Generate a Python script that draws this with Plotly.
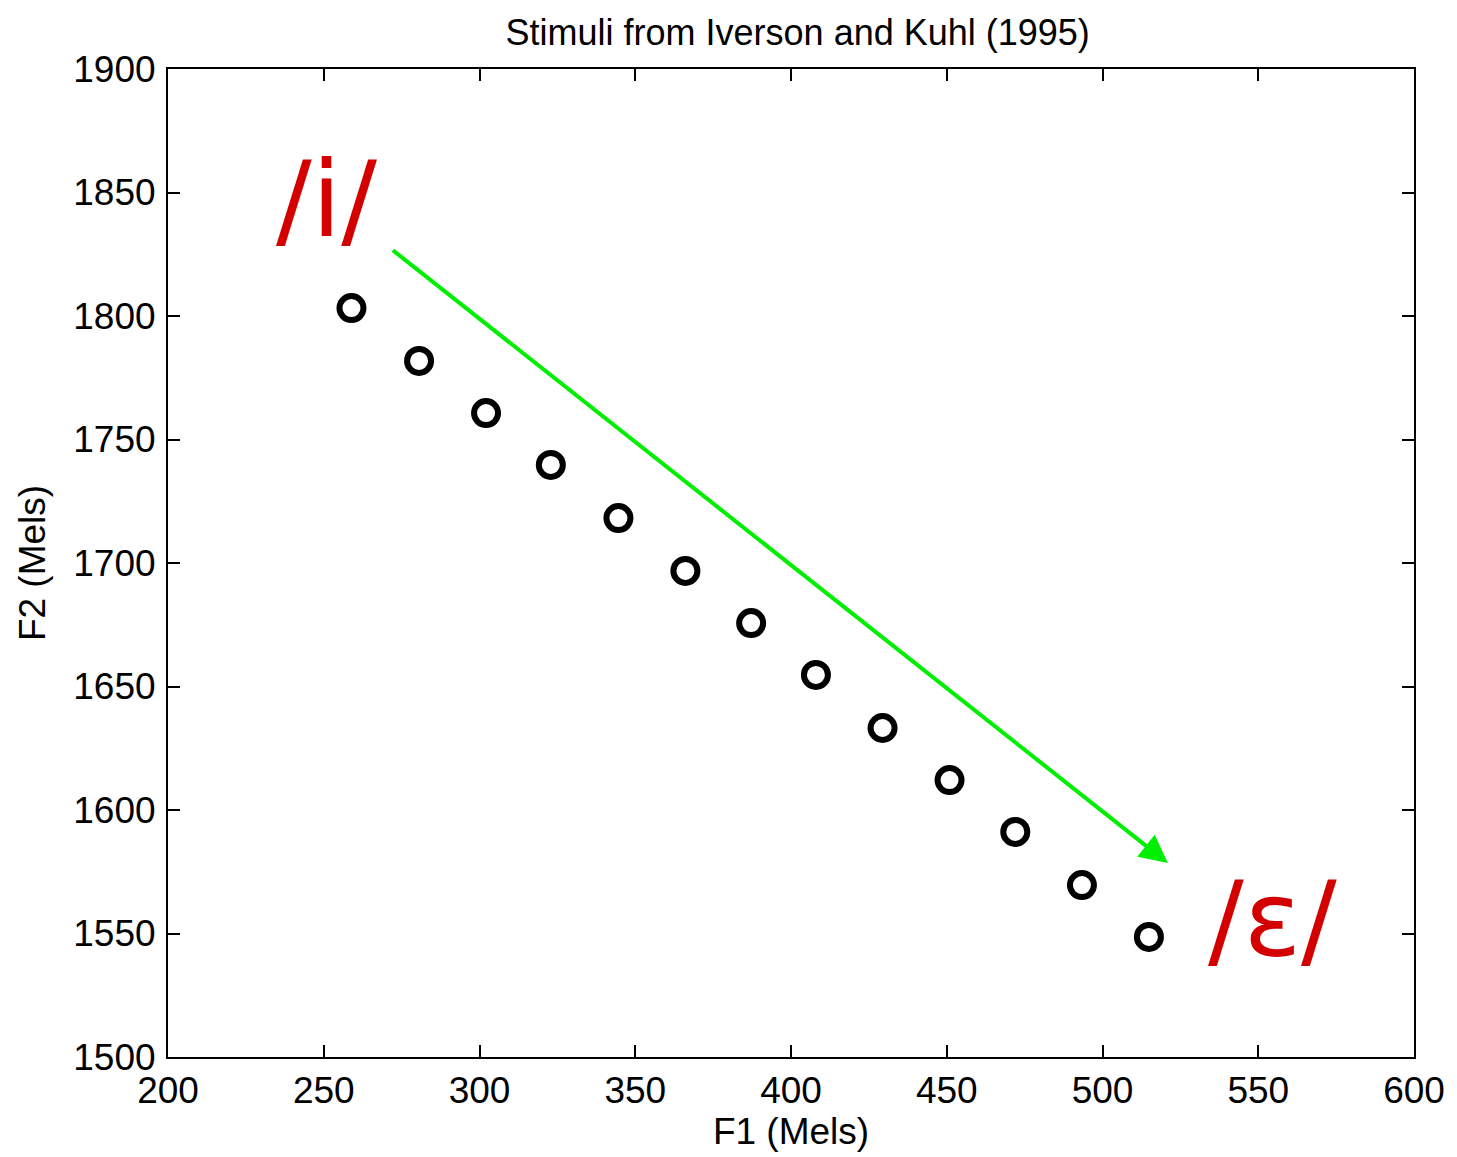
import plotly.graph_objects as go

f1_mels = [258.9, 280.6, 302.1, 322.9, 344.6, 366.1, 387.2, 408.0, 429.4, 450.9, 472.0, 493.4, 514.9]
f2_mels = [1803.2, 1781.8, 1760.7, 1739.7, 1718.2, 1696.8, 1675.7, 1654.7, 1633.2, 1612.1, 1591.1, 1569.6, 1548.6]

x_ticks = [200, 250, 300, 350, 400, 450, 500, 550, 600]
y_ticks = [1500, 1550, 1600, 1650, 1700, 1750, 1800, 1850, 1900]

arrow_start = (271.7, 1827.1)
arrow_end = (521.0, 1578.5)

vowel_labels = ["/i/", "/ɛ/"]
vowel_x = [251.0, 554.5]
vowel_y = [1847.0, 1555.5]

font = "Liberation Sans, Arial, sans-serif"

fig = go.Figure()
fig.add_trace(go.Scatter(
    x=f1_mels, y=f2_mels, mode="markers",
    marker=dict(symbol="circle-open", size=24, color="black", line=dict(width=6, color="black")),
    showlegend=False,
))

fig.add_annotation(
    x=arrow_end[0], y=arrow_end[1], ax=arrow_start[0], ay=arrow_start[1],
    xref="x", yref="y", axref="x", ayref="y",
    text="", showarrow=True, arrowhead=2, arrowsize=1.4, arrowwidth=4,
    arrowcolor="#00ee00", standoff=0,
)

for t, xv, yv in zip(vowel_labels, vowel_x, vowel_y):
    fig.add_annotation(
        x=xv, y=yv, xref="x", yref="y", text=t, showarrow=False,
        font=dict(family="DejaVu Sans, sans-serif", size=106, color="#d40000"),
        xanchor="center", yanchor="middle",
    )

axis_common = dict(
    showgrid=False, zeroline=False, showline=True, linecolor="black", linewidth=2,
    mirror="ticks", ticks="inside", ticklen=12, tickwidth=2, tickcolor="black",
    tickfont=dict(family=font, size=37, color="black"),
)

fig.update_xaxes(
    range=[200, 600], tickvals=x_ticks, ticktext=[str(v) for v in x_ticks],
    title=dict(text="F1 (Mels)", font=dict(family=font, size=37, color="black"), standoff=6),
    **axis_common,
)
fig.update_yaxes(
    range=[1500, 1900], tickvals=y_ticks, ticktext=[str(v) for v in y_ticks],
    title=dict(text="F2 (Mels)", font=dict(family=font, size=37, color="black"), standoff=16),
    ticklabelstandoff=3,
    **axis_common,
)

fig.update_layout(
    width=1449, height=1149,
    margin=dict(l=160, r=37, t=61, b=100),
    paper_bgcolor="white", plot_bgcolor="white",
    title=dict(text="Stimuli from Iverson and Kuhl (1995)", x=0.545, xanchor="center",
               y=0.979, yanchor="middle", font=dict(family=font, size=36, color="black")),
)

fig.write_html("out.html")
